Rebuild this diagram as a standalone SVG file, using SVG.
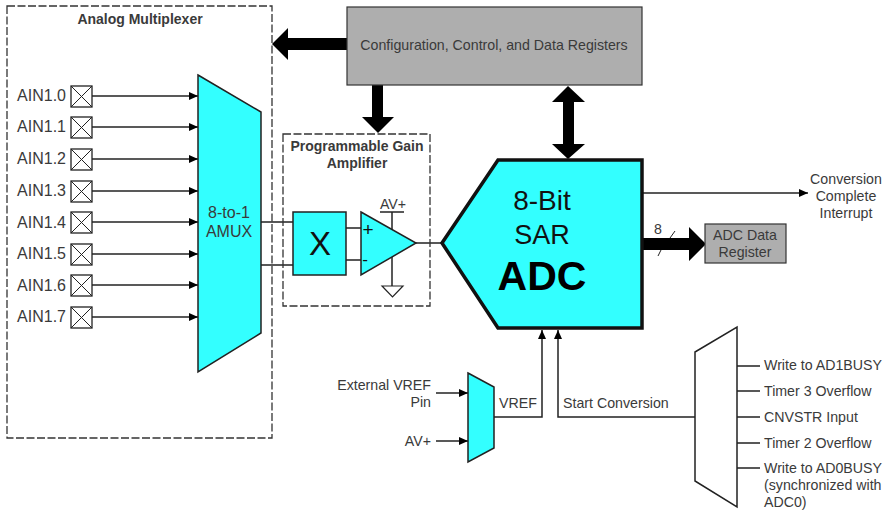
<svg xmlns="http://www.w3.org/2000/svg" width="888" height="511" viewBox="0 0 888 511">
<style>
text{font-family:"Liberation Sans",Arial,sans-serif;fill:#3a3a3a;font-size:14.2px}
.a{font-size:16px}
.b{font-weight:bold;font-size:14px}
.m{text-anchor:middle}
.e{text-anchor:end}
.w{fill:none;stroke:#222;stroke-width:1.5}
.d{fill:none;stroke:#333;stroke-width:1.3;stroke-dasharray:8 2.5}
.c{fill:#3ff;stroke:#222;stroke-width:1.5}
.x{fill:#fff;stroke:#222;stroke-width:1.3}
.g{fill:#aeaeae;stroke:#333;stroke-width:1.2}
.h{fill:#000}
</style>
<defs>
<marker id="a" markerUnits="userSpaceOnUse" markerWidth="10" markerHeight="10" refX="9" refY="5" orient="auto"><path d="M0 1L9 5L0 9Z" fill="#000"/></marker>
<g id="pin"><rect class="x" x="0" y="-10" width="21" height="21"/><path d="M0-10L21 11M21-10L0 11" stroke="#222" stroke-width="1" fill="none"/></g>
</defs>
<rect width="888" height="511" fill="#fff"/>
<g id="connectors">
<path class="w" marker-end="url(#a)" d="M92 96H198"/>
<path class="w" marker-end="url(#a)" d="M92 127H198"/>
<path class="w" marker-end="url(#a)" d="M92 159H198"/>
<path class="w" marker-end="url(#a)" d="M92 191H198"/>
<path class="w" marker-end="url(#a)" d="M92 222H198"/>
<path class="w" marker-end="url(#a)" d="M92 254H198"/>
<path class="w" marker-end="url(#a)" d="M92 285H198"/>
<path class="w" marker-end="url(#a)" d="M92 317H198"/>
<path class="w" d="M261 222H293M261 265H293M346 228H361M346 260H361M416 243H442"/>
<path class="w" d="M392 212V286"/>
<path class="w" marker-end="url(#a)" d="M642 193H808"/>
<path class="w" marker-end="url(#a)" d="M436 393H468"/>
<path class="w" marker-end="url(#a)" d="M436 441H468"/>
<path class="w" marker-end="url(#a)" d="M494 417H542V330"/>
<path class="w" marker-end="url(#a)" d="M695 417H558V330"/>
<path class="w" d="M737 366H760M737 391H760M737 417H760M737 443H760M737 468H760"/>
<path class="h" d="M347 38H288V28L272 44L288 60V50H347Z"/>
<path class="h" d="M372 85H383V117H394L378 133L362 117H372Z"/>
<path class="h" d="M568 86L585 102H574V144H585L568 159L552 144H563V102H552Z"/>
<path class="h" d="M642 238H689V227L706 244L689 261V250H642Z"/>
<path d="M670 238L675 231M658 256L661 250" stroke="#222" stroke-width="1" fill="none"/>
</g>
<g id="analog-multiplexer"><rect class="d" x="7" y="6" width="265" height="432"/><text class="b m" x="140" y="24">Analog Multiplexer</text></g>
<g id="ain0"><text class="a e" x="66" y="101">AIN1.0</text><use href="#pin" x="71" y="96"/></g>
<g id="ain1"><text class="a e" x="66" y="132">AIN1.1</text><use href="#pin" x="71" y="127"/></g>
<g id="ain2"><text class="a e" x="66" y="164">AIN1.2</text><use href="#pin" x="71" y="159"/></g>
<g id="ain3"><text class="a e" x="66" y="196">AIN1.3</text><use href="#pin" x="71" y="191"/></g>
<g id="ain4"><text class="a e" x="66" y="228">AIN1.4</text><use href="#pin" x="71" y="222"/></g>
<g id="ain5"><text class="a e" x="66" y="259">AIN1.5</text><use href="#pin" x="71" y="254"/></g>
<g id="ain6"><text class="a e" x="66" y="291">AIN1.6</text><use href="#pin" x="71" y="285"/></g>
<g id="ain7"><text class="a e" x="66" y="322">AIN1.7</text><use href="#pin" x="71" y="317"/></g>
<g id="amux"><path class="c" d="M198 75L261 112V333L198 372Z"/><text class="a m" x="229" y="218">8-to-1</text><text class="a m" x="229" y="237">AMUX</text></g>
<g id="registers"><rect class="g" x="347" y="7" width="295" height="78"/><text class="m" x="494" y="50">Configuration, Control, and Data Registers</text></g>
<g id="pga"><rect class="d" x="283" y="134" width="147" height="172"/><text class="b m" x="357" y="151">Programmable Gain</text><text class="b m" x="357" y="168">Amplifier</text></g>
<g id="gain"><rect class="c" x="293" y="212" width="53" height="63"/><text class="m" x="320" y="255" style="font-size:33px;fill:#111">X</text></g>
<g id="opamp"><path class="c" d="M361 212L416 243L361 275Z"/><text class="m" x="368" y="236" style="font-size:19px;fill:#111">+</text><text class="m" x="365" y="265" style="font-size:17px;fill:#111">-</text></g>
<g id="avplus"><text class="m" x="393" y="209">AV+</text><path class="w" d="M380 212H404"/></g>
<g id="ground"><path d="M382 286H403L392.500 297Z" fill="#fff" stroke="#222" stroke-width="1.200"/></g>
<g id="adc"><path d="M442 243L498 160H642V328H498Z" fill="#3ff" stroke="#111" stroke-width="3.500"/><text class="m" x="542" y="210" style="font-size:28px;fill:#111">8-Bit</text><text class="m" x="542" y="244" style="font-size:27px;fill:#111">SAR</text><text class="m" x="542" y="290" style="font-size:41px;font-weight:bold;fill:#000">ADC</text></g>
<g id="interrupt"><text class="m" x="846" y="184">Conversion</text><text class="m" x="846" y="201">Complete</text><text class="m" x="846" y="218">Interrupt</text></g>
<g id="bus-width"><text class="m" x="658" y="234">8</text></g>
<g id="data-register"><rect class="g" x="705" y="224" width="81" height="39"/><text class="m" x="745" y="240">ADC Data</text><text class="m" x="745" y="257">Register</text></g>
<g id="vref-mux"><path class="c" d="M468 373L494 387V448L468 462Z"/></g>
<g id="vref-labels"><text class="e" x="431" y="390">External VREF</text><text class="e" x="431" y="407">Pin</text><text class="e" x="431" y="446">AV+</text><text x="499" y="408">VREF</text><text x="563" y="408">Start Conversion</text></g>
<g id="start-mux"><path d="M695 352L737 327V507L695 481Z" fill="#fff" stroke="#222" stroke-width="1.500"/></g>
<g id="start-labels"><text x="764" y="370">Write to AD1BUSY</text><text x="764" y="396">Timer 3 Overflow</text><text x="764" y="422">CNVSTR Input</text><text x="764" y="448">Timer 2 Overflow</text><text x="764" y="473">Write to AD0BUSY</text><text x="764" y="490">(synchronized with</text><text x="764" y="507">ADC0)</text></g>
</svg>
